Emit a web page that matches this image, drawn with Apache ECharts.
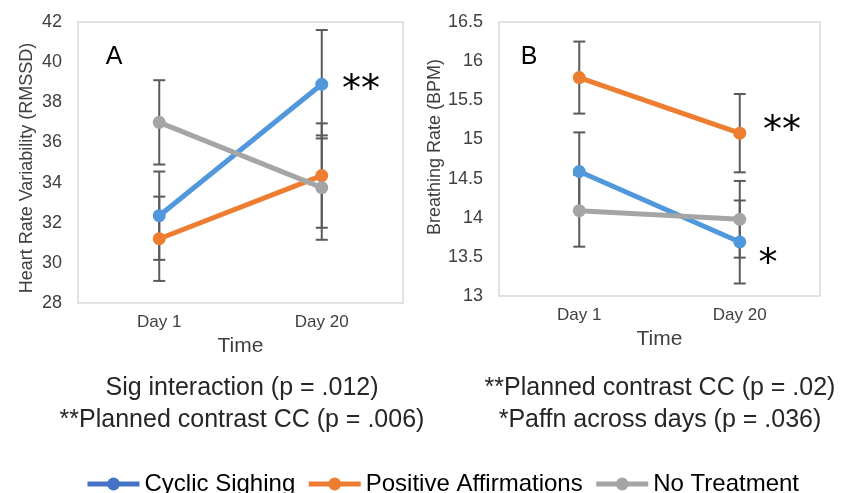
<!DOCTYPE html>
<html>
<head>
<meta charset="utf-8">
<script src="https://cdn.jsdelivr.net/npm/echarts@6/dist/echarts.min.js"></script>
<style>
  html, body { margin: 0; padding: 0; background: #fff; }
  #chart { width: 842px; height: 493px; }
</style>
</head>
<body>
<div id="chart"></div>
<script>
var categories = ['Day 1', 'Day 20'];
var seriesNames = ['Cyclic Sighing', 'Positive Affirmations', 'No Treatment'];

// A: heart rate variability (RMSSD), means and error
var hrvCyclic = [32.35, 38.9];
var hrvPositive = [31.2, 34.35];
var hrvNone = [37.0, 33.75];
var hrvCyclicErr = [2.2, 2.7];
var hrvPositiveErr = [2.1, 2.6];
var hrvNoneErr = [2.1, 2.6];

// B: breathing rate (BPM), means and error
var brCyclic = [14.59, 13.69];
var brPositive = [15.79, 15.08];
var brNone = [14.09, 13.98];
var brCyclicErr = [0.5, 0.53];
var brPositiveErr = [0.46, 0.5];
var brNoneErr = [0.46, 0.49];

var lineColors = ['#5197DC', '#ED7D31', '#A5A5A5'];
var legendColors = ['#4472C4', '#ED7D31', '#A5A5A5'];
var font = "'Liberation Sans', Arial, sans-serif";
var textColor = '#404040';

function errData(vals, errs) {
    var out = [];
    for (var i = 0; i < vals.length; i++) {
        out.push([i, vals[i] - errs[i], vals[i] + errs[i]]);
    }
    return out;
}

function renderErr(params, api) {
    var lo = api.coord([api.value(0), api.value(1)]);
    var hi = api.coord([api.value(0), api.value(2)]);
    var w = 6;
    var st = { stroke: '#5a5a5a', lineWidth: 2 };
    return {
        type: 'group',
        children: [
            { type: 'line', shape: { x1: lo[0], y1: lo[1], x2: hi[0], y2: hi[1] }, style: st },
            { type: 'line', shape: { x1: lo[0] - w, y1: lo[1], x2: lo[0] + w, y2: lo[1] }, style: st },
            { type: 'line', shape: { x1: hi[0] - w, y1: hi[1], x2: hi[0] + w, y2: hi[1] }, style: st }
        ]
    };
}

function errSeries(name, vals, errs, idx) {
    return {
        name: name,
        type: 'custom',
        xAxisIndex: idx,
        yAxisIndex: idx,
        renderItem: renderErr,
        data: errData(vals, errs),
        z: 1,
        silent: true
    };
}

function lineSeries(name, vals, idx, ci) {
    return {
        name: name,
        type: 'line',
        xAxisIndex: idx,
        yAxisIndex: idx,
        data: vals,
        symbol: 'circle',
        symbolSize: 13,
        lineStyle: { width: 5, color: lineColors[ci] },
        itemStyle: { color: lineColors[ci] },
        z: 3
    };
}

function xAxis(idx) {
    return {
        type: 'category',
        gridIndex: idx,
        data: categories,
        axisLine: { show: false },
        axisTick: { show: false },
        axisLabel: { fontSize: 17, color: textColor, fontFamily: font, margin: 11 },
        name: 'Time',
        nameLocation: 'middle',
        nameGap: 31,
        nameTextStyle: { fontSize: 21, color: textColor, fontFamily: font }
    };
}

var chart = echarts.init(document.getElementById('chart'));
var option = {
    animation: false,
    textStyle: { fontFamily: font },
    grid: [
        { left: 78, top: 22, width: 325, height: 281, show: true, borderColor: '#d9d9d9', borderWidth: 1.5 },
        { left: 499, top: 22, width: 321, height: 274, show: true, borderColor: '#d9d9d9', borderWidth: 1.5 }
    ],
    xAxis: [xAxis(0), xAxis(1)],
    yAxis: [{
        type: 'value',
        gridIndex: 0,
        min: 28,
        max: 42,
        interval: 2,
        axisLine: { show: false },
        axisTick: { show: false },
        splitLine: { show: false },
        axisLabel: { fontSize: 18, color: textColor, fontFamily: font, margin: 16 },
        name: 'Heart Rate Variability (RMSSD)',
        nameLocation: 'middle',
        nameGap: 42,
        nameTextStyle: { fontSize: 18, color: textColor, fontFamily: font, padding: [0, 11, 0, 0] }
    }, {
        type: 'value',
        gridIndex: 1,
        min: 13,
        max: 16.5,
        interval: 0.5,
        axisLine: { show: false },
        axisTick: { show: false },
        splitLine: { show: false },
        axisLabel: { fontSize: 18, color: textColor, fontFamily: font, margin: 16 },
        name: 'Breathing Rate (BPM)',
        nameLocation: 'middle',
        nameGap: 55,
        nameTextStyle: { fontSize: 18, color: textColor, fontFamily: font, padding: [0, 0, 0, 24] }
    }],
    legend: {
        left: 80,
        top: 467,
        itemWidth: 52,
        itemHeight: 16,
        itemGap: 11,
        textStyle: { fontSize: 24, color: '#000', fontFamily: font },
        data: seriesNames.map(function (n, i) {
            return {
                name: n,
                itemStyle: { color: legendColors[i] },
                lineStyle: { color: legendColors[i], width: 5 }
            };
        })
    },
    graphic: [
        { type: 'text', x: 114, y: 57, style: { text: 'A', font: '25px ' + font, fill: '#000', textAlign: 'center', textVerticalAlign: 'middle', align: 'center', verticalAlign: 'middle' } },
        { type: 'text', x: 529, y: 57, style: { text: 'B', font: '25px ' + font, fill: '#000', textAlign: 'center', textVerticalAlign: 'middle', align: 'center', verticalAlign: 'middle' } },
        { type: 'text', x: 361, y: 91, style: { text: '**', font: '38px DejaVu Sans', fill: '#000', textAlign: 'center', textVerticalAlign: 'middle', align: 'center', verticalAlign: 'middle' } },
        { type: 'text', x: 782, y: 132, style: { text: '**', font: '38px DejaVu Sans', fill: '#000', textAlign: 'center', textVerticalAlign: 'middle', align: 'center', verticalAlign: 'middle' } },
        { type: 'text', x: 768, y: 265, style: { text: '*', font: '38px DejaVu Sans', fill: '#000', textAlign: 'center', textVerticalAlign: 'middle', align: 'center', verticalAlign: 'middle' } },
        { type: 'text', x: 242, y: 388, style: { text: 'Sig interaction (p = .012)', font: '25px ' + font, fill: '#262626', textAlign: 'center', textVerticalAlign: 'middle', align: 'center', verticalAlign: 'middle' } },
        { type: 'text', x: 242, y: 420, style: { text: '**Planned contrast CC (p = .006)', font: '25px ' + font, fill: '#262626', textAlign: 'center', textVerticalAlign: 'middle', align: 'center', verticalAlign: 'middle' } },
        { type: 'text', x: 660, y: 388, style: { text: '**Planned contrast CC (p = .02)', font: '25px ' + font, fill: '#262626', textAlign: 'center', textVerticalAlign: 'middle', align: 'center', verticalAlign: 'middle' } },
        { type: 'text', x: 660, y: 420, style: { text: '*Paffn across days (p = .036)', font: '25px ' + font, fill: '#262626', textAlign: 'center', textVerticalAlign: 'middle', align: 'center', verticalAlign: 'middle' } }
    ],
    series: [
        errSeries('errA0', hrvCyclic, hrvCyclicErr, 0),
        errSeries('errA1', hrvPositive, hrvPositiveErr, 0),
        errSeries('errA2', hrvNone, hrvNoneErr, 0),
        lineSeries(seriesNames[0], hrvCyclic, 0, 0),
        lineSeries(seriesNames[1], hrvPositive, 0, 1),
        lineSeries(seriesNames[2], hrvNone, 0, 2),
        errSeries('errB0', brCyclic, brCyclicErr, 1),
        errSeries('errB1', brPositive, brPositiveErr, 1),
        errSeries('errB2', brNone, brNoneErr, 1),
        lineSeries(seriesNames[0], brCyclic, 1, 0),
        lineSeries(seriesNames[1], brPositive, 1, 1),
        lineSeries(seriesNames[2], brNone, 1, 2)
    ]
};
chart.setOption(option);
window.addEventListener('resize', chart.resize);
</script>
</body>
</html>
